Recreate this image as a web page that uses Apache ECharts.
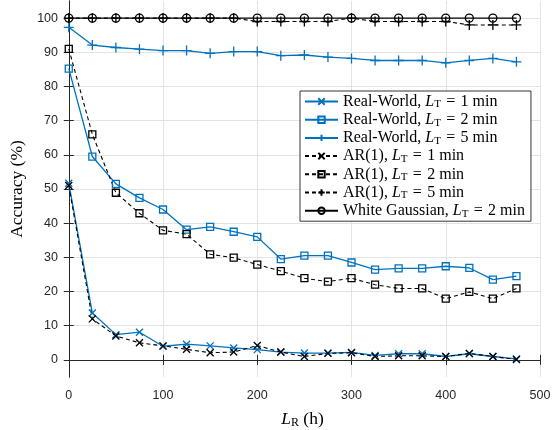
<!DOCTYPE html>
<html><head><meta charset="utf-8">
<script src="https://cdn.jsdelivr.net/npm/echarts@6/dist/echarts.min.js"></script>
<style>html,body{margin:0;padding:0;background:#fff}#c{width:552px;height:430px}</style>
</head><body><div id="c"></div>
<script>
const xValues = [0,25,50,75,100,125,150,175,200,225,250,275,300,325,350,375,400,425,450,475];
const rw1 = [51.7,13.7,7.4,8.1,4.0,4.6,4.1,3.5,3.0,2.3,2.0,2.0,2.2,1.3,1.8,1.8,1.0,1.8,1.0,0.3];
const rw2 = [85.2,59.5,51.5,47.4,44.0,38.1,38.9,37.5,36.0,29.5,30.5,30.5,28.5,26.4,26.8,26.8,27.4,26.9,23.5,24.5];
const rw5 = [97.3,92.1,91.4,90.9,90.5,90.5,89.7,90.2,90.2,89.0,89.2,88.6,88.2,87.6,87.6,87.6,86.9,87.6,88.2,87.2];
const ar1 = [51.0,12.0,7.0,5.0,4.1,3.1,2.1,2.3,4.2,2.3,1.0,1.9,2.1,1.0,1.2,1.2,1.0,1.9,1.0,0.1];
const ar2 = [91.0,66.0,48.9,42.9,37.9,36.8,30.9,29.9,27.9,26.0,23.9,22.9,23.9,22.0,20.9,20.9,17.9,19.9,17.9,20.9];
const ar5 = [100,100,100,100,100,100,100,100,99,99,99,99,100,99,99,99,99,98,98,98];
const wg2 = [100,100,100,100,100,100,100,100,100,100,100,100,100,100,100,100,100,100,100,100];
const xTicks = [0,100,200,300,400,500];
const yTicks = [0,10,20,30,40,50,60,70,80,90,100];
const seriesNames = ['rw1','rw2','rw5','ar1','ar2','ar5','wg2'];
const EQ = '\u2004=\u2004';
const legendLabels = {
  rw1: '{rm|Real-World, }{it|L}{sub|T}{rm|' + EQ + '1 min}',
  rw2: '{rm|Real-World, }{it|L}{sub|T}{rm|' + EQ + '2 min}',
  rw5: '{rm|Real-World, }{it|L}{sub|T}{rm|' + EQ + '5 min}',
  ar1: '{rm|AR(1), }{it|L}{sub|T}{rm|' + EQ + '1 min}',
  ar2: '{rm|AR(1), }{it|L}{sub|T}{rm|' + EQ + '2 min}',
  ar5: '{rm|AR(1), }{it|L}{sub|T}{rm|' + EQ + '5 min}',
  wg2: '{rm|White Gaussian, }{it|L}{sub|T}{rm|' + EQ + '2 min}'
};

const BLUE = '#0072BD', BLACK = '#000000';
const SYM_X = 'path://M0,0L10,10M0,10L10,0';
const SYM_P = 'path://M5,0L5,10M0,5L10,5';
const serif = 'Liberation Serif';

function mk(name, data, color, symbol, size, dashed) {
  return {
    name, type: 'line', data: xValues.map((x, i) => [x, data[i]]),
    symbol, symbolSize: size, showSymbol: true, animation: false,
    lineStyle: { color, width: dashed ? 1.1 : 1.3, type: dashed ? [4, 3] : 'solid' },
    itemStyle: { color: 'rgba(0,0,0,0)', borderColor: color, borderWidth: 1.3 },
    emphasis: { disabled: true }
  };
}

const chart = echarts.init(document.getElementById('c'), null, { renderer: 'canvas' });
const axisColor = '#262626';
const labelFont = { fontFamily: 'Liberation Sans', fontSize: 12.5, color: axisColor };
chart.setOption({
  animation: false,
  backgroundColor: '#fff',
  grid: { left: 65, right: 12, top: 1, bottom: 53, show: false, containLabel: false, outerBoundsMode: 'none' },
  legend: {
    orient: 'vertical', left: 300, top: 91,
    backgroundColor: '#fff', borderColor: '#000', borderWidth: 0.8,
    padding: [2, 6, 2, 4], itemGap: 1.2, itemWidth: 33, itemHeight: 8,
    data: seriesNames,
    formatter: n => legendLabels[n],
    textStyle: {
      color: '#000',
      rich: {
        rm: { fontFamily: serif, fontSize: 16, lineHeight: 17, color: '#000' },
        it: { fontFamily: serif, fontSize: 16, lineHeight: 17, fontStyle: 'italic', color: '#000' },
        sub: { fontFamily: serif, fontSize: 11, lineHeight: 11, color: '#000', padding: [6, 0, 0, 0] }
      }
    }
  },
  xAxis: [{
    type: 'value', min: -4, max: 500,
    axisLine: { show: true, lineStyle: { color: axisColor, width: 1 } },
    axisTick: { show: true, inside: true, length: 5, customValues: xTicks, lineStyle: { color: axisColor } },
    axisLabel: Object.assign({ customValues: xTicks, margin: 12 }, labelFont),
    splitLine: { show: true, lineStyle: { color: '#e3e3e3', width: 1 } },
    name: '{it|L}{sub|R}{rm| (h)}', nameLocation: 'middle', nameGap: 32,
    nameTextStyle: {
      rich: {
        rm: { fontFamily: serif, fontSize: 17.5, color: '#000' },
        it: { fontFamily: serif, fontSize: 17.5, fontStyle: 'italic', color: '#000' },
        sub: { fontFamily: serif, fontSize: 12, color: '#000', padding: [8, 0, 0, 0] }
      }
    }
  }, {
    type: 'value', min: -4, max: 500, position: 'top',
    axisLine: { show: true, lineStyle: { color: axisColor, width: 1 } },
    axisTick: { show: true, inside: true, length: 5, customValues: xTicks, lineStyle: { color: axisColor } },
    axisLabel: { show: false }, splitLine: { show: false }
  }],
  yAxis: [{
    type: 'value', min: -5, max: 105,
    axisLine: { show: true, lineStyle: { color: axisColor, width: 1 } },
    axisTick: { show: true, inside: true, length: 5, customValues: yTicks, lineStyle: { color: axisColor } },
    axisLabel: Object.assign({ customValues: yTicks, margin: 7 }, labelFont),
    splitLine: { show: true, lineStyle: { color: '#e3e3e3', width: 1 } },
    name: 'Accuracy (%)', nameLocation: 'middle', nameGap: 36,
    nameTextStyle: { fontFamily: serif, fontSize: 17.5, color: '#000' }
  }, {
    type: 'value', min: -5, max: 105, position: 'right',
    axisLine: { show: true, lineStyle: { color: axisColor, width: 1 } },
    axisTick: { show: true, inside: true, length: 5, customValues: yTicks, lineStyle: { color: axisColor } },
    axisLabel: { show: false }, splitLine: { show: false }
  }],
  series: [
    mk('rw1', rw1, BLUE, SYM_X, 7, false),
    mk('rw2', rw2, BLUE, 'rect', 7, false),
    mk('rw5', rw5, BLUE, SYM_P, 10, false),
    mk('ar1', ar1, BLACK, SYM_X, 7, true),
    mk('ar2', ar2, BLACK, 'rect', 7, true),
    mk('ar5', ar5, BLACK, SYM_P, 10, true),
    mk('wg2', wg2, BLACK, 'circle', 8, false)
  ]
});
</script></body></html>
